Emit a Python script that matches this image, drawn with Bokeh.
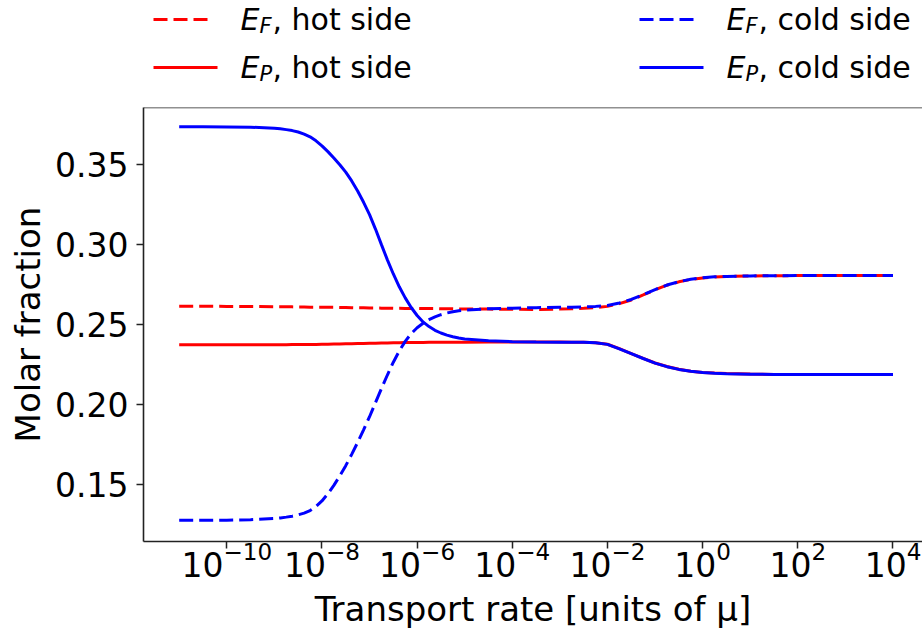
from bokeh.plotting import figure
from bokeh.models import Range1d, FixedTicker, NumeralTickFormatter, Span
from bokeh.layouts import column
from bokeh.core.properties import value
from bokeh.embed import file_html
from bokeh.resources import INLINE

# ---- data ----
log_rate = [-11, -10.5, -10, -9.5,
            -9, -8.875, -8.75, -8.625, -8.5, -8.375, -8.25, -8.125,
            -8, -7.875, -7.75, -7.625, -7.5, -7.375, -7.25, -7.125,
            -7, -6.875, -6.75, -6.625, -6.5, -6.375, -6.25, -6.125,
            -6, -5.875, -5.75, -5.625, -5.5, -5.375, -5.25, -5.125, -5,
            -4.5, -4, -3.5, -3, -2.75, -2.5, -2.25, -2, -1.75, -1.5, -1.25,
            -1, -0.75, -0.5, -0.25, 0, 0.25, 0.5, 1, 1.5, 2, 3, 4]

ef_hot = [0.2614, 0.2614, 0.2613, 0.2612,
          0.2611, 0.2611, 0.2610, 0.2610, 0.2609, 0.2609, 0.2608, 0.2608,
          0.2608, 0.2607, 0.2607, 0.2606, 0.2606, 0.2605, 0.2604, 0.2604,
          0.2603, 0.2603, 0.2602, 0.2602, 0.2601, 0.2601, 0.2600, 0.2600,
          0.2600, 0.2599, 0.2599, 0.2599, 0.2598, 0.2598, 0.2598, 0.2597, 0.2597,
          0.2596, 0.2595, 0.2594, 0.2596, 0.2598, 0.2601, 0.2606, 0.2613, 0.2630, 0.2653, 0.2684,
          0.2716, 0.2745, 0.2766, 0.2781, 0.2790, 0.2796, 0.2799, 0.2803, 0.2804, 0.2805, 0.2805, 0.2805]

ep_hot = [0.2373, 0.2373, 0.2373, 0.2373,
          0.2374, 0.2374, 0.2374, 0.2375, 0.2375, 0.2375, 0.2376, 0.2376,
          0.2377, 0.2377, 0.2378, 0.2379, 0.2380, 0.2380, 0.2381, 0.2382,
          0.2383, 0.2383, 0.2384, 0.2385, 0.2386, 0.2386, 0.2387, 0.2387,
          0.2388, 0.2388, 0.2389, 0.2389, 0.2389, 0.2390, 0.2390, 0.2390, 0.2390,
          0.2391, 0.2391, 0.2391, 0.2391, 0.2390, 0.2389, 0.2386, 0.2377, 0.2349, 0.2319, 0.2289,
          0.2260, 0.2238, 0.2221, 0.2209, 0.2201, 0.2197, 0.2194, 0.2191, 0.2189, 0.2188, 0.2188, 0.2188]

ef_cold = [0.1279, 0.1279, 0.1280, 0.1283,
           0.1290, 0.1294, 0.1299, 0.1305, 0.1313, 0.1324, 0.1340, 0.1365,
           0.1400, 0.1445, 0.1497, 0.1556, 0.1620, 0.1690, 0.1765, 0.1843,
           0.1925, 0.2013, 0.2100, 0.2185, 0.2265, 0.2335, 0.2395, 0.2443,
           0.2480, 0.2508, 0.2530, 0.2547, 0.2561, 0.2572, 0.2580, 0.2586, 0.2590,
           0.2598, 0.2602, 0.2605, 0.2607, 0.2608, 0.2610, 0.2613, 0.2619, 0.2634, 0.2656, 0.2686,
           0.2718, 0.2746, 0.2767, 0.2782, 0.2791, 0.2797, 0.2800, 0.2803, 0.2804, 0.2805, 0.2805, 0.2805]

ep_cold = [0.3733, 0.3733, 0.3732, 0.3730,
           0.3724, 0.3720, 0.3715, 0.3709, 0.3700, 0.3687, 0.3670, 0.3645,
           0.3614, 0.3578, 0.3538, 0.3496, 0.3450, 0.3395, 0.3332, 0.3262,
           0.3185, 0.3095, 0.2998, 0.2903, 0.2815, 0.2735, 0.2666, 0.2606,
           0.2556, 0.2516, 0.2487, 0.2464, 0.2447, 0.2434, 0.2424, 0.2416, 0.2410,
           0.2398, 0.2393, 0.2391, 0.2390, 0.2390, 0.2389, 0.2386, 0.2376, 0.2348, 0.2318, 0.2288,
           0.2259, 0.2237, 0.2220, 0.2208, 0.2200, 0.2196, 0.2193, 0.2190, 0.2189, 0.2188, 0.2188, 0.2188]

x_tick_exponents = [-10, -8, -6, -4, -2, 0, 2, 4]
y_ticks = [0.15, 0.20, 0.25, 0.30, 0.35]

legend_subscripts = ["F", "P", "F", "P"]
legend_rest = [", hot side", ", hot side", ", cold side", ", cold side"]

rate = [10.0 ** k for k in log_rate]
FONT = value("DejaVu Sans")

W = 922
LEFT = 143

# ---- legend strip (x in page pixels; its frame is aligned to the plot frame) ----
LEG_H = 88
leg = figure(width=W, height=LEG_H, x_range=Range1d(LEFT, W), y_range=Range1d(LEG_H, 0),
             x_axis_location=None, y_axis_location=None, output_backend="svg",
             toolbar_location=None, min_border=0, min_border_left=LEFT,
             outline_line_color=None)
leg.grid.visible = False
entry_style = [("red", "14 6", 153, 19), ("red", "solid", 153, 67),
               ("blue", "14 6", 639, 19), ("blue", "solid", 639, 67)]
for (color, dash, x0, yc), sub, rest in zip(entry_style, legend_subscripts, legend_rest):
    length = 54 if dash != "solid" else 64
    leg.line([x0, x0 + length], [yc, yc], line_color=color, line_width=3, line_dash=dash)
    leg.text([x0 + 87], [yc], text=["E"], text_font=FONT, text_font_style="italic",
             text_font_size="30px", text_baseline="middle", text_color="black")
    leg.text([x0 + 106], [yc + 6], text=[sub], text_font=FONT, text_font_style="italic",
             text_font_size="21px", text_baseline="middle", text_color="black")
    leg.text([x0 + 119], [yc], text=[rest], text_font=FONT,
             text_font_size="30px", text_baseline="middle", text_color="black")

# ---- main plot ----
p = figure(width=W, height=546, x_axis_type="log",
           x_range=Range1d(10 ** -11.75, 10 ** 4.62), y_range=Range1d(0.1147, 0.3853),
           output_backend="svg", toolbar_location=None,
           min_border_top=19, min_border_left=LEFT, min_border_right=0, min_border_bottom=93,
           outline_line_color=None)
p.grid.visible = False

p.line(rate, ef_hot, line_color="red", line_width=3, line_dash="14 6")
p.line(rate, ep_hot, line_color="red", line_width=3)
p.line(rate, ef_cold, line_color="blue", line_width=3, line_dash="14 6")
p.line(rate, ep_cold, line_color="blue", line_width=3)

p.add_layout(Span(location=0.3853, dimension="width", line_color="#222222", line_width=1.6))

p.xaxis.ticker = FixedTicker(ticks=[10.0 ** e for e in x_tick_exponents])
p.yaxis.ticker = FixedTicker(ticks=y_ticks)
p.yaxis.formatter = NumeralTickFormatter(format="0.00")

p.xaxis.axis_label = "Transport rate [units of \u03bc]"
p.yaxis.axis_label = "Molar fraction"

for ax in (p.xaxis, p.yaxis):
    ax.axis_line_color = "#222222"
    ax.axis_line_width = 1.6
    ax.major_tick_line_color = "#222222"
    ax.major_tick_line_width = 1.5
    ax.major_tick_out = 7
    ax.major_tick_in = 0
    ax.minor_tick_line_color = None
    ax.major_label_text_font = "DejaVu Sans"
    ax.major_label_text_font_size = "33px"
    ax.major_label_text_color = "black"
    ax.axis_label_text_font = "DejaVu Sans"
    ax.axis_label_text_font_size = "34px"
    ax.axis_label_text_font_style = "normal"
    ax.axis_label_text_color = "black"

p.yaxis.major_label_standoff = 8
p.yaxis.axis_label_standoff = 4
p.xaxis.major_label_standoff = -8
p.xaxis.axis_label_standoff = 9

layout = column(leg, p)
open("out.html", "w").write(file_html(layout, INLINE))
